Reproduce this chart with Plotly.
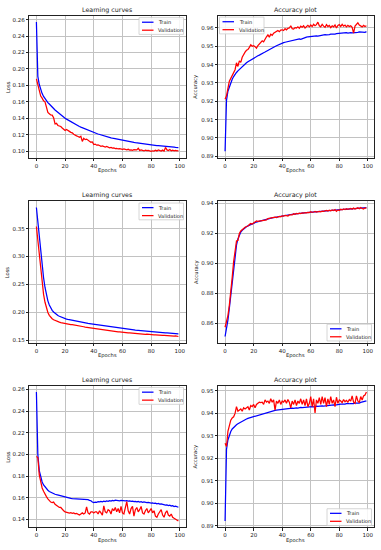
import plotly.graph_objects as go

epochs = list(range(100))

# Panel 1: Learning curves (top)
loss1_train = [
0.2570,0.1910,0.1810,0.1745,0.1700,0.1665,0.1636,0.1611,0.1590,0.1573,
0.1558,0.1538,0.1518,0.1500,0.1484,0.1468,0.1453,0.1439,0.1425,0.1412,
0.1400,0.1389,0.1378,0.1368,0.1358,0.1348,0.1338,0.1328,0.1318,0.1309,
0.1300,0.1292,0.1284,0.1276,0.1269,0.1262,0.1255,0.1248,0.1241,0.1233,
0.1226,0.1220,0.1214,0.1208,0.1202,0.1196,0.1191,0.1185,0.1180,0.1175,
0.1170,0.1166,0.1162,0.1158,0.1154,0.1150,0.1146,0.1142,0.1139,0.1135,
0.1132,0.1128,0.1125,0.1122,0.1118,0.1115,0.1112,0.1109,0.1106,0.1103,
0.1100,0.1098,0.1095,0.1093,0.1090,0.1088,0.1085,0.1083,0.1080,0.1078,
0.1075,0.1073,0.1071,0.1070,0.1068,0.1066,0.1065,0.1063,0.1061,0.1060,
0.1058,0.1056,0.1054,0.1052,0.1051,0.1049,0.1047,0.1045,0.1044,0.1042]
loss1_val = [
0.1878,0.1810,0.1730,0.1670,0.1645,0.1612,0.1600,0.1535,0.1470,0.1455,
0.1440,0.1438,0.1405,0.1330,0.1338,0.1312,0.1305,0.1300,0.1282,0.1265,
0.1250,0.1262,0.1255,0.1240,0.1228,0.1222,0.1205,0.1192,0.1185,0.1178,
0.1168,0.1180,0.1118,0.1155,0.1140,0.1146,0.1128,0.1120,0.1108,0.1112,
0.1080,0.1085,0.1072,0.1075,0.1068,0.1058,0.1062,0.1055,0.1050,0.1056,
0.1046,0.1040,0.1045,0.1036,0.1038,0.1030,0.1034,0.1026,0.1030,0.1022,
0.1020,0.1026,0.1018,0.1015,0.1022,0.1012,0.1016,0.1010,0.1018,0.1012,
0.1015,0.1035,0.1008,0.1014,0.1006,0.1002,0.1012,0.1005,0.1010,0.1003,
0.0998,0.1004,0.1000,0.1010,0.1002,0.1015,0.1006,0.1000,0.1012,0.1000,
0.1045,0.1015,0.1008,0.1020,0.1004,0.1010,0.1002,0.1008,0.1003,0.1005]

# Panel 2: Accuracy plot (top)
acc1_train = [
0.8927,0.9205,0.9255,0.9280,0.9302,0.9320,0.9335,0.9348,0.9357,0.9366,
0.9374,0.9383,0.9390,0.9398,0.9404,0.9410,0.9416,0.9421,0.9426,0.9432,
0.9437,0.9440,0.9444,0.9448,0.9452,0.9455,0.9460,0.9465,0.9469,0.9474,
0.9478,0.9483,0.9487,0.9491,0.9495,0.9499,0.9503,0.9507,0.9510,0.9514,
0.9517,0.9520,0.9522,0.9524,0.9526,0.9528,0.9530,0.9532,0.9534,0.9536,
0.9537,0.9538,0.9540,0.9538,0.9542,0.9545,0.9548,0.9550,0.9552,0.9553,
0.9555,0.9553,0.9556,0.9555,0.9557,0.9556,0.9558,0.9560,0.9559,0.9563,
0.9564,0.9562,0.9565,0.9564,0.9566,0.9565,0.9568,0.9567,0.9569,0.9570,
0.9570,0.9572,0.9571,0.9573,0.9572,0.9574,0.9572,0.9575,0.9574,0.9573,
0.9573,0.9575,0.9577,0.9576,0.9578,0.9577,0.9579,0.9578,0.9576,0.9580]
acc1_val = [
0.9211,0.9230,0.9270,0.9310,0.9325,0.9340,0.9352,0.9372,0.9410,0.9390,
0.9420,0.9412,0.9440,0.9458,0.9468,0.9478,0.9482,0.9494,0.9508,0.9500,
0.9503,0.9498,0.9490,0.9504,0.9512,0.9520,0.9530,0.9524,0.9540,0.9552,
0.9562,0.9550,0.9566,0.9560,0.9572,0.9576,0.9581,0.9586,0.9580,0.9588,
0.9590,0.9586,0.9596,0.9590,0.9598,0.9600,0.9612,0.9596,0.9594,0.9602,
0.9600,0.9606,0.9598,0.9610,0.9604,0.9612,0.9600,0.9608,0.9614,0.9606,
0.9616,0.9608,0.9620,0.9612,0.9618,0.9632,0.9612,0.9606,0.9620,0.9610,
0.9604,0.9618,0.9608,0.9614,0.9602,0.9612,0.9606,0.9616,0.9600,0.9614,
0.9618,0.9608,0.9620,0.9610,0.9616,0.9606,0.9614,0.9608,0.9612,0.9604,
0.9572,0.9610,0.9618,0.9628,0.9616,0.9612,0.9606,0.9614,0.9608,0.9612]

# Panel 3: Learning curves (middle)
loss2_train = [
0.3880,0.3620,0.3350,0.3080,0.2830,0.2620,0.2445,0.2310,0.2205,0.2130,
0.2075,0.2035,0.2005,0.1980,0.1960,0.1943,0.1928,0.1915,0.1905,0.1895,
0.1885,0.1878,0.1871,0.1865,0.1859,0.1853,0.1847,0.1841,0.1836,0.1831,
0.1826,0.1821,0.1816,0.1812,0.1807,0.1803,0.1799,0.1795,0.1791,0.1786,
0.1782,0.1778,0.1774,0.1770,0.1766,0.1762,0.1758,0.1754,0.1750,0.1746,
0.1742,0.1739,0.1735,0.1732,0.1728,0.1725,0.1721,0.1718,0.1714,0.1711,
0.1708,0.1705,0.1702,0.1699,0.1696,0.1693,0.1690,0.1687,0.1684,0.1681,
0.1678,0.1675,0.1672,0.1670,0.1667,0.1665,0.1662,0.1660,0.1657,0.1655,
0.1652,0.1650,0.1647,0.1645,0.1643,0.1640,0.1638,0.1636,0.1634,0.1632,
0.1630,0.1628,0.1626,0.1624,0.1622,0.1620,0.1618,0.1616,0.1614,0.1612]
loss2_val = [
0.3540,0.3270,0.2990,0.2730,0.2500,0.2320,0.2180,0.2070,0.1995,0.1945,
0.1910,0.1885,0.1866,0.1852,0.1840,0.1831,0.1822,0.1815,0.1808,0.1802,
0.1797,0.1794,0.1788,0.1786,0.1780,0.1778,0.1772,0.1762,0.1758,0.1755,
0.1750,0.1748,0.1742,0.1740,0.1735,0.1731,0.1728,0.1722,0.1720,0.1714,
0.1705,0.1701,0.1698,0.1694,0.1692,0.1688,0.1684,0.1682,0.1678,0.1676,
0.1672,0.1669,0.1665,0.1664,0.1660,0.1656,0.1654,0.1650,0.1649,0.1644,
0.1638,0.1641,0.1633,0.1635,0.1630,0.1628,0.1625,0.1626,0.1621,0.1620,
0.1617,0.1616,0.1612,0.1613,0.1609,0.1607,0.1605,0.1606,0.1601,0.1602,
0.1598,0.1597,0.1593,0.1595,0.1591,0.1590,0.1588,0.1589,0.1585,0.1586,
0.1583,0.1581,0.1580,0.1578,0.1579,0.1575,0.1573,0.1576,0.1571,0.1565]

# Panel 4: Accuracy plot (middle)
acc2_train = [
0.8510,0.8555,0.8620,0.8700,0.8790,0.8890,0.8985,0.9060,0.9120,0.9162,
0.9190,0.9208,0.9220,0.9230,0.9238,0.9244,0.9249,0.9254,0.9259,0.9264,
0.9268,0.9272,0.9275,0.9278,0.9281,0.9284,0.9287,0.9290,0.9292,0.9295,
0.9297,0.9299,0.9301,0.9303,0.9305,0.9307,0.9309,0.9311,0.9313,0.9316,
0.9318,0.9319,0.9320,0.9322,0.9323,0.9324,0.9326,0.9327,0.9328,0.9330,
0.9331,0.9332,0.9333,0.9334,0.9335,0.9336,0.9337,0.9338,0.9339,0.9341,
0.9342,0.9342,0.9343,0.9344,0.9345,0.9345,0.9346,0.9347,0.9348,0.9348,
0.9349,0.9350,0.9351,0.9352,0.9353,0.9354,0.9355,0.9355,0.9356,0.9357,
0.9358,0.9358,0.9359,0.9360,0.9360,0.9361,0.9362,0.9362,0.9363,0.9363,
0.9364,0.9365,0.9366,0.9366,0.9367,0.9368,0.9369,0.9369,0.9370,0.9371]
acc2_val = [
0.8572,0.8610,0.8650,0.8720,0.8800,0.8905,0.9010,0.9080,0.9148,0.9152,
0.9198,0.9215,0.9225,0.9232,0.9240,0.9245,0.9248,0.9258,0.9265,0.9262,
0.9270,0.9278,0.9282,0.9280,0.9282,0.9286,0.9284,0.9290,0.9292,0.9290,
0.9298,0.9300,0.9302,0.9306,0.9304,0.9308,0.9305,0.9310,0.9312,0.9310,
0.9316,0.9314,0.9320,0.9318,0.9315,0.9322,0.9324,0.9322,0.9330,0.9326,
0.9332,0.9330,0.9334,0.9332,0.9336,0.9334,0.9338,0.9336,0.9340,0.9338,
0.9344,0.9340,0.9342,0.9346,0.9341,0.9344,0.9346,0.9343,0.9348,0.9346,
0.9350,0.9352,0.9348,0.9354,0.9350,0.9356,0.9352,0.9358,0.9346,0.9356,
0.9352,0.9360,0.9356,0.9362,0.9358,0.9364,0.9360,0.9362,0.9366,0.9360,
0.9368,0.9362,0.9366,0.9370,0.9364,0.9372,0.9366,0.9362,0.9370,0.9368]

# Panel 5: Learning curves (bottom)
loss3_train = [
0.2575,0.2000,0.1850,0.1785,0.1745,0.1718,0.1698,0.1682,0.1669,0.1658,
0.1650,0.1643,0.1637,0.1632,0.1628,0.1624,0.1621,0.1618,0.1614,0.1612,
0.1610,0.1606,0.1600,0.1596,0.1594,0.1592,0.1591,0.1590,0.1592,0.1589,
0.1588,0.1586,0.1588,0.1583,0.1585,0.1580,0.1582,0.1576,0.1572,0.1560,
0.1556,0.1560,0.1558,0.1563,0.1561,0.1566,0.1563,0.1568,0.1565,0.1570,
0.1567,0.1573,0.1569,0.1576,0.1572,0.1578,0.1574,0.1577,0.1572,0.1575,
0.1572,0.1575,0.1570,0.1573,0.1568,0.1571,0.1566,0.1569,0.1564,0.1567,
0.1562,0.1565,0.1560,0.1563,0.1558,0.1561,0.1556,0.1554,0.1557,0.1552,
0.1550,0.1553,0.1547,0.1550,0.1544,0.1547,0.1541,0.1544,0.1538,0.1535,
0.1531,0.1534,0.1528,0.1531,0.1524,0.1527,0.1519,0.1522,0.1515,0.1512]
loss3_val = [
0.1980,0.1970,0.1810,0.1740,0.1690,0.1660,0.1630,0.1610,0.1590,0.1570,
0.1560,0.1555,0.1560,0.1540,0.1530,0.1520,0.1510,0.1510,0.1490,0.1480,
0.1470,0.1465,0.1462,0.1458,0.1462,0.1456,0.1460,0.1452,0.1455,0.1448,
0.1440,0.1450,0.1460,0.1450,0.1460,0.1515,0.1460,0.1450,0.1470,0.1470,
0.1460,0.1470,0.1470,0.1450,0.1480,0.1460,0.1440,0.1525,0.1470,0.1460,
0.1490,0.1480,0.1450,0.1500,0.1480,0.1510,0.1470,0.1500,0.1460,0.1520,
0.1460,0.1450,0.1510,0.1565,0.1480,0.1450,0.1500,0.1520,0.1430,0.1490,
0.1510,0.1470,0.1490,0.1520,0.1460,0.1450,0.1480,0.1500,0.1460,0.1480,
0.1500,0.1460,0.1480,0.1430,0.1420,0.1450,0.1470,0.1490,0.1440,0.1420,
0.1460,0.1480,0.1440,0.1430,0.1450,0.1420,0.1410,0.1400,0.1390,0.1385]

# Panel 6: Accuracy plot (bottom)
acc3_train = [
0.8922,0.9240,0.9282,0.9305,0.9320,0.9331,0.9339,0.9345,0.9350,0.9354,
0.9358,0.9362,0.9366,0.9369,0.9372,0.9375,0.9378,0.9380,0.9382,0.9384,
0.9386,0.9389,0.9391,0.9393,0.9395,0.9397,0.9399,0.9401,0.9403,0.9405,
0.9406,0.9408,0.9409,0.9411,0.9412,0.9414,0.9415,0.9416,0.9417,0.9418,
0.9419,0.9420,0.9419,0.9421,0.9422,0.9421,0.9423,0.9424,0.9423,0.9425,
0.9425,0.9424,0.9426,0.9427,0.9426,0.9427,0.9428,0.9427,0.9429,0.9428,
0.9429,0.9430,0.9429,0.9431,0.9432,0.9431,0.9433,0.9432,0.9434,0.9433,
0.9434,0.9435,0.9436,0.9435,0.9437,0.9436,0.9438,0.9437,0.9439,0.9438,
0.9440,0.9441,0.9440,0.9442,0.9441,0.9443,0.9442,0.9443,0.9444,0.9443,
0.9444,0.9446,0.9445,0.9447,0.9446,0.9449,0.9451,0.9452,0.9454,0.9456]
acc3_val = [
0.9268,0.9253,0.9320,0.9350,0.9370,0.9380,0.9385,0.9400,0.9430,0.9410,
0.9415,0.9420,0.9410,0.9425,0.9420,0.9425,0.9430,0.9415,0.9435,0.9430,
0.9440,0.9425,0.9440,0.9445,0.9450,0.9448,0.9450,0.9440,0.9460,0.9450,
0.9455,0.9445,0.9465,0.9450,0.9460,0.9415,0.9455,0.9445,0.9460,0.9440,
0.9455,0.9450,0.9460,0.9445,0.9462,0.9450,0.9425,0.9455,0.9440,0.9460,
0.9435,0.9455,0.9445,0.9465,0.9440,0.9460,0.9435,0.9465,0.9430,0.9445,
0.9475,0.9430,0.9465,0.9402,0.9460,0.9445,0.9470,0.9440,0.9475,0.9445,
0.9470,0.9430,0.9465,0.9440,0.9475,0.9445,0.9460,0.9430,0.9472,0.9445,
0.9460,0.9455,0.9448,0.9462,0.9452,0.9458,0.9450,0.9462,0.9455,0.9478,
0.9450,0.9445,0.9478,0.9455,0.9448,0.9475,0.9460,0.9478,0.9482,0.9495]

x_ticks = [0, 20, 40, 60, 80, 100]
series_names = ["Train", "Validation"]
series_colors = ["#0000ff", "#ff0000"]

W, H = 381, 550
def px(x):
    return x / W
def py(y):
    return 1 - y / H

cols = [(29.3, 185.5), (218.0, 373.5)]
rows = [(14.7, 157.3), (200.8, 343.2), (386.0, 528.4)]

panels = [
    dict(tr=loss1_train, va=loss1_val, title="Learning curves", ylab="Loss", r=0, c=0, dt=0.02, leg="ur"),
    dict(tr=acc1_train, va=acc1_val, title="Accuracy plot", ylab="Accuracy", r=0, c=1, dt=0.01, leg="ul"),
    dict(tr=loss2_train, va=loss2_val, title="Learning curves", ylab="Loss", r=1, c=0, dt=0.05, leg="ur"),
    dict(tr=acc2_train, va=acc2_val, title="Accuracy plot", ylab="Accuracy", r=1, c=1, dt=0.02, leg="lr"),
    dict(tr=loss3_train, va=loss3_val, title="Learning curves", ylab="Loss", r=2, c=0, dt=0.02, leg="ur"),
    dict(tr=acc3_train, va=acc3_val, title="Accuracy plot", ylab="Accuracy", r=2, c=1, dt=0.01, leg="lr"),
]

FONT = "DejaVu Sans"
TXT = "#1a1a1a"
fig = go.Figure()
shapes = []
annotations = []
layout = {}

for i, p in enumerate(panels):
    n = "" if i == 0 else str(i + 1)
    xa, ya = "x" + n, "y" + n
    x0, x1 = cols[p["c"]]
    y0, y1 = rows[p["r"]]
    for s, name, col in zip([p["tr"], p["va"]], series_names, series_colors):
        fig.add_trace(go.Scatter(x=epochs, y=s, mode="lines", name=name,
                                 line=dict(color=col, width=1.25), xaxis=xa, yaxis=ya,
                                 showlegend=False))
    allv = p["tr"] + p["va"]
    lo, hi = min(allv), max(allv)
    pad = 0.05 * (hi - lo)
    axcommon = dict(showline=True, mirror=True, linecolor="#222", linewidth=0.8,
                    ticks="outside", ticklen=2.5, tickwidth=0.8, tickcolor="#222",
                    showgrid=True, gridcolor="#c2c2c2", gridwidth=1, zeroline=False,
                    tickfont=dict(family=FONT, size=5.5, color=TXT))
    layout["xaxis" + n] = dict(domain=[px(x0), px(x1)], range=[-4.95, 103.95],
                               tickvals=x_ticks, anchor=ya, **axcommon)
    layout["yaxis" + n] = dict(domain=[py(y1), py(y0)], range=[lo - pad, hi + pad],
                               dtick=p["dt"], tick0=0, tickformat=".2f", anchor=xa, **axcommon)
    cx = (x0 + x1) / 2
    annotations.append(dict(text=p["title"], x=px(cx), y=py(y0 - 5.6), xref="paper", yref="paper",
                            showarrow=False, xanchor="center", yanchor="middle",
                            font=dict(family=FONT, size=6.3, color=TXT)))
    annotations.append(dict(text="Epochs", x=px(cx), y=py(y1 + 12.8), xref="paper", yref="paper",
                            showarrow=False, xanchor="center", yanchor="middle",
                            font=dict(family=FONT, size=5.2, color=TXT)))
    annotations.append(dict(text=p["ylab"], x=px(x0 - 22), y=py((y0 + y1) / 2), xref="paper", yref="paper",
                            showarrow=False, xanchor="center", yanchor="middle", textangle=-90,
                            font=dict(family=FONT, size=5.2, color=TXT)))
    # legend box
    bw, bh = 44.5, 16.8
    if p["leg"] == "ur":
        bl, bt = x1 - 2 - bw, y0 + 2
    elif p["leg"] == "ul":
        bl, bt = x0 + 1.5, y0 + 1.5
    else:
        bl, bt = x1 - 2 - bw, y1 - 2 - bh
    shapes.append(dict(type="rect", xref="paper", yref="paper",
                       x0=px(bl), x1=px(bl + bw), y0=py(bt + bh), y1=py(bt),
                       line=dict(color="#cccccc", width=0.8), fillcolor="rgba(255,255,255,0.85)"))
    for k, (name, col) in enumerate(zip(series_names, series_colors)):
        ry = bt + 4.6 + 8.0 * k
        shapes.append(dict(type="line", xref="paper", yref="paper",
                           x0=px(bl + 3), x1=px(bl + 14.5), y0=py(ry), y1=py(ry),
                           line=dict(color=col, width=1.25)))
        annotations.append(dict(text=name, x=px(bl + 17.3), y=py(ry), xref="paper", yref="paper",
                                showarrow=False, xanchor="left", yanchor="middle",
                                font=dict(family=FONT, size=5.1, color=TXT)))

fig.update_layout(width=W, height=H, margin=dict(l=0, r=0, t=0, b=0),
                  paper_bgcolor="white", plot_bgcolor="white",
                  shapes=shapes, annotations=annotations, **layout)
fig.write_html("out.html", config={"displayModeBar": False},
               post_script="document.body.style.margin='0';document.body.style.padding='0';")
